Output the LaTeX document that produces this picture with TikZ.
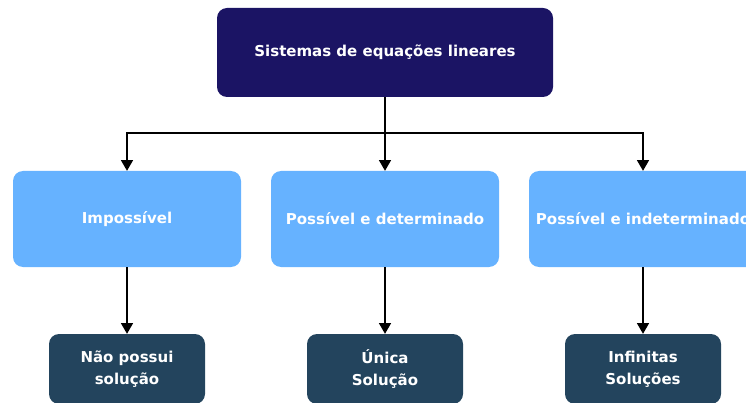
\documentclass[tikz,border=0pt]{standalone}
\usepackage{fontspec}
\setmainfont{DejaVu Sans}
\usepackage{xcolor}
\usepackage{tikz}
\usetikzlibrary{arrows}

\definecolor{topcolor}{HTML}{1B1464}
\definecolor{midcolor}{HTML}{66B2FF}
\definecolor{lowcolor}{HTML}{23445D}

\tikzset{
 box/.style={rounded corners=10pt, text=white, font=\bfseries\fontsize{15}{22}\selectfont, align=center, inner sep=0pt},
 topbox/.style={box, fill=topcolor, minimum width=336pt, minimum height=89pt},
 midbox/.style={box, fill=midcolor, minimum width=228pt, minimum height=96pt},
 lowbox/.style={box, fill=lowcolor, minimum width=156pt, minimum height=70pt},
 link/.style={line width=2pt, -triangle 60}
}

\begin{document}
\begin{tikzpicture}[x=1pt, y=-1pt]
 \useasboundingbox (0,0) rectangle (746,403);
 \clip (0,0) rectangle (746,403);

 \node [topbox] (sistemas) at (385, 52.5) {Sistemas de equações lineares};

 \node [midbox] (impossivel) at (127, 219) {Impossível};
 \node [midbox] (determinado) at (385, 219) {Possível e determinado};
 \node [midbox] (indeterminado) at (643, 219) {Possível e indeterminado};

 \node [lowbox] (nenhuma) at (127, 369) {Não possui\\solução};
 \node [lowbox] (unica) at (385, 369) {Única\\Solução};
 \node [lowbox] (infinitas) at (643, 369) {Infinitas\\Soluções};

 \coordinate (ramo) at (385, 133);
 \draw [line width=2pt] (sistemas) -- (ramo);
 \draw [link] (ramo) -| (impossivel);
 \draw [link] (ramo) -- (determinado);
 \draw [link] (ramo) -| (indeterminado);

 \draw [link] (impossivel) -- (nenhuma);
 \draw [link] (determinado) -- (unica);
 \draw [link] (indeterminado) -- (infinitas);
\end{tikzpicture}
\end{document}
